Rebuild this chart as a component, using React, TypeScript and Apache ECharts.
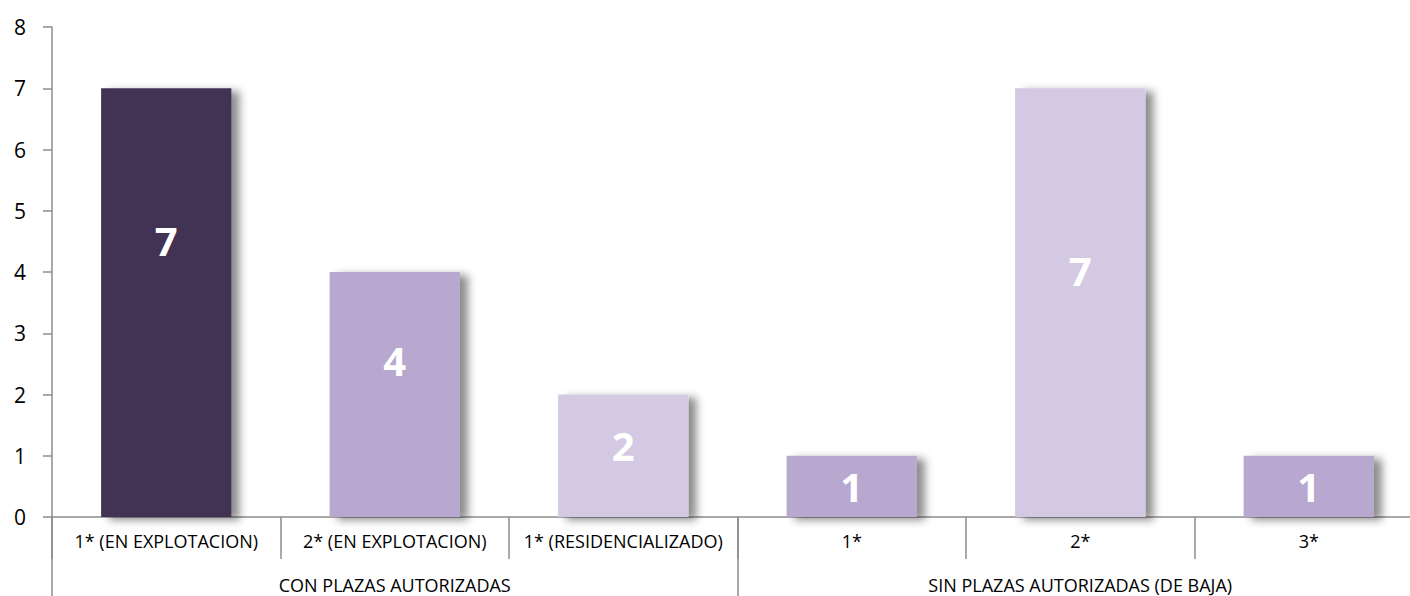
import React, { useEffect, useRef } from "react";
import * as echarts from "echarts";

const categories = [
  "1* (EN EXPLOTACION)",
  "2* (EN EXPLOTACION)",
  "1* (RESIDENCIALIZADO)",
  "1*",
  "2*",
  "3*",
];
const groups = ["CON PLAZAS AUTORIZADAS", "SIN PLAZAS AUTORIZADAS (DE BAJA)"];
const values = [7, 4, 2, 1, 7, 1];
const yTicks = [0, 1, 2, 3, 4, 5, 6, 7, 8];

const barColors = ["#433352", "#B8A8CF", "#D3C9E3", "#B8A8CF", "#D3C9E3", "#B8A8CF"];
const labelOffsets = [-62, -34, -10, 0, -32, 0];

export default function App() {
  const ref = useRef<HTMLDivElement>(null);
  useEffect(() => {
    if (!ref.current) return;
    const chart = echarts.init(ref.current, undefined, { renderer: "svg" });
    const font = "'Open Sans', sans-serif";
    chart.setOption({
      animation: false,
      grid: { left: 52, right: 0, top: 27, bottom: 79, containLabel: false },
      xAxis: [
        {
          type: "category",
          data: categories,
          position: "bottom",
          axisLine: { show: true, lineStyle: { color: "#8c8c8c", width: 1.5 } },
          axisTick: { show: true, interval: 0, length: 42, lineStyle: { color: "#8c8c8c", width: 1.5 } },
          axisLabel: { interval: 0, margin: 15, color: "#000", fontSize: 18, fontFamily: font },
        },
        {
          type: "category",
          data: groups,
          position: "bottom",
          axisLine: { show: false },
          axisTick: { show: true, interval: 0, length: 79, lineStyle: { color: "#8c8c8c", width: 1.5 } },
          axisLabel: { interval: 0, margin: 59, color: "#000", fontSize: 18, fontFamily: font },
        },
      ],
      yAxis: {
        type: "value",
        min: 0,
        max: 8,
        interval: 1,
        axisLine: { show: true, lineStyle: { color: "#8c8c8c", width: 1.5 } },
        axisTick: { show: true, length: 9, lineStyle: { color: "#8c8c8c", width: 1.5 } },
        splitLine: { show: false },
        axisLabel: {
          color: "#000",
          fontSize: 21,
          fontFamily: font,
          margin: 26,
          formatter: (v: number) => (yTicks.includes(v) ? String(v) : ""),
        },
      },
      series: [
        {
          type: "bar",
          xAxisIndex: 0,
          barWidth: "57%",
          data: values.map((v, i) => ({
            value: v,
            itemStyle: { color: barColors[i] },
            label: { offset: [0, labelOffsets[i]] },
          })),
          itemStyle: {
            shadowColor: "rgba(0,0,0,0.45)",
            shadowBlur: 9,
            shadowOffsetX: 8,
            shadowOffsetY: 3,
          },
          label: {
            show: true,
            position: "inside",
            color: "#fff",
            fontSize: 40,
            fontWeight: "bold",
            fontFamily: font,
          },
        },
      ],
    });
    return () => chart.dispose();
  }, []);
  return (
    <div style={{ position: "fixed", left: 0, top: 0, width: 1410, height: 596, overflow: "hidden", background: "#fff" }}>
      <div ref={ref} style={{ width: 1423, height: 596 }} />
    </div>
  );
}
